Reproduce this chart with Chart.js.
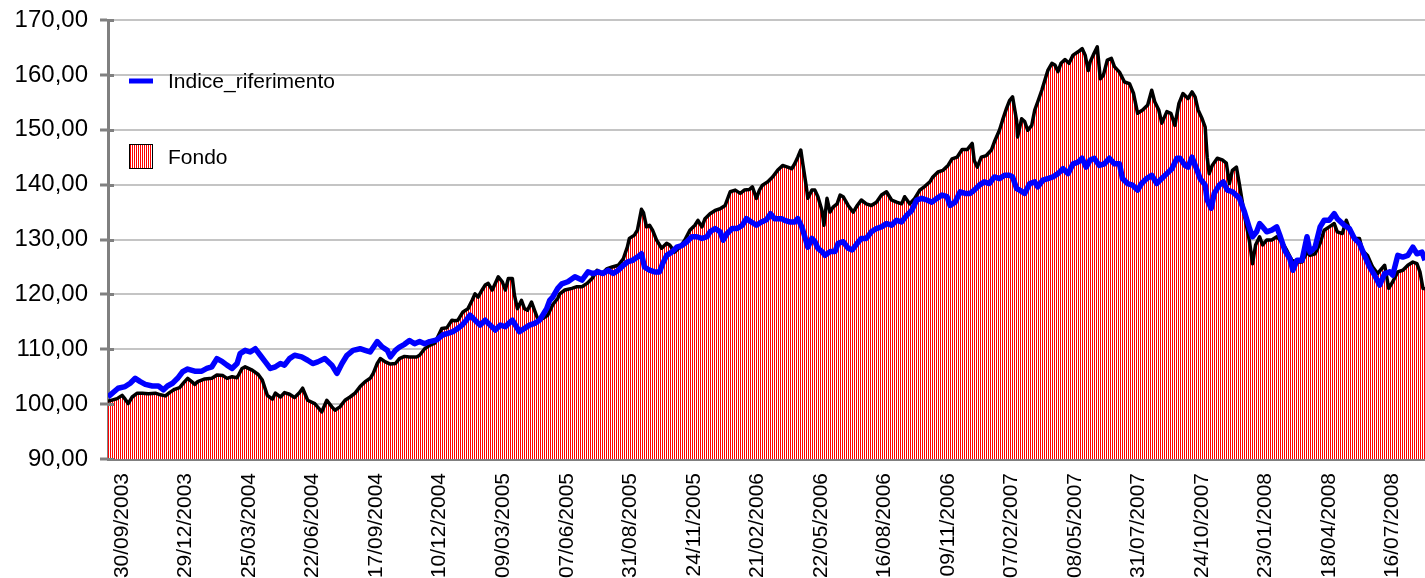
<!DOCTYPE html>
<html>
<head>
<meta charset="utf-8">
<script src="https://cdn.jsdelivr.net/npm/chart.js@4.4.1/dist/chart.umd.min.js"></script>
<style>
  html, body { margin: 0; padding: 0; background: #ffffff; }
  #wrap { width: 1425px; height: 578px; }
</style>
</head>
<body>
<div id="wrap"><canvas id="c" width="1425" height="578"></canvas></div>
<script>
// ---- tick labels (every 63 trading days) ----
const tickDays = [0, 63, 126, 189, 252, 315, 378, 441, 504, 567, 630, 693, 756, 819, 882, 945, 1008, 1071, 1134, 1197, 1260];
const tickLabels = ["30/09/2003", "29/12/2003", "25/03/2004", "22/06/2004", "17/09/2004", "10/12/2004",
  "09/03/2005", "07/06/2005", "31/08/2005", "24/11/2005", "21/02/2006", "22/05/2006", "16/08/2006",
  "09/11/2006", "07/02/2007", "08/05/2007", "31/07/2007", "24/10/2007", "23/01/2008", "18/04/2008", "16/07/2008"];
const lastDay = 1306;

// ---- Fondo (trading-day index, value) ----
const fondoDays = [0,9,14,17,20,24,29,34,40,47,52,57,61,66,71,76,79,83,86,89,96,103,108,114,118,123,128,133,136,143,149,153,158,163,166,171,175,180,185,190,193,198,205,212,217,222,225,230,235,240,245,250,255,260,263,267,270,275,280,285,289,294,299,306,309,314,319,324,331,336,341,344,347,352,357,361,364,367,371,374,377,381,384,387,391,394,397,401,403,406,410,413,416,420,423,426,431,436,441,446,448,453,460,465,470,475,480,485,490,495,500,506,511,515,517,522,525,529,531,534,537,540,544,549,554,557,562,567,572,577,582,585,589,592,597,602,607,612,617,622,627,631,636,639,643,646,649,654,659,664,669,674,678,681,684,687,689,692,694,698,701,704,708,710,713,716,719,723,726,729,734,739,743,747,752,757,762,767,772,777,782,787,790,795,800,805,810,815,818,823,828,833,837,842,847,852,857,859,862,866,871,876,879,884,887,891,894,897,901,902,906,909,912,916,919,922,926,929,932,936,939,942,945,949,953,957,962,966,969,972,974,977,981,984,987,991,995,998,1003,1008,1013,1017,1021,1026,1031,1035,1038,1042,1045,1050,1054,1058,1062,1066,1071,1075,1078,1081,1085,1088,1090,1092,1095,1100,1105,1109,1112,1115,1119,1122,1127,1132,1135,1138,1142,1145,1149,1154,1159,1164,1169,1174,1179,1184,1189,1192,1197,1202,1206,1211,1216,1219,1224,1228,1231,1236,1241,1244,1249,1254,1259,1263,1266,1270,1274,1279,1284,1289,1294,1298,1301,1304,1306];
const fondoValues = [100.5,101.0,101.6,100.9,100.1,101.3,102.0,102.0,101.9,102.0,101.7,101.5,102.1,102.7,103.0,104.1,104.7,104.1,103.6,104.1,104.6,104.7,105.3,105.2,104.7,105.0,104.8,106.5,106.8,106.2,105.4,104.4,101.6,100.9,102.0,101.3,102.1,101.8,101.2,102.1,102.9,100.7,100.1,98.6,100.7,99.5,98.9,99.5,100.7,101.3,102.0,103.2,104.1,104.7,105.6,107.4,108.3,107.7,107.3,107.4,108.3,108.7,108.6,108.6,108.9,110.1,110.7,111.1,113.8,113.9,115.3,115.2,115.3,116.8,117.4,118.9,120.1,119.5,120.8,121.7,122.0,120.8,122.0,123.2,122.3,120.8,122.9,122.9,119.9,117.4,118.9,117.4,117.1,118.6,117.1,115.6,115.6,116.2,118.1,119.3,120.1,120.8,121.1,121.4,121.4,122.0,122.9,124.4,123.8,124.7,125.0,125.3,126.5,128.6,130.2,130.8,131.7,135.5,134.9,132.3,132.6,131.7,129.9,128.4,129.3,129.0,127.7,128.6,129.9,131.7,132.6,133.5,132.3,133.8,134.7,135.3,135.6,136.2,138.7,139.0,138.4,139.0,139.1,139.6,137.5,139.0,139.9,140.5,141.4,142.6,143.5,143.2,142.9,143.8,145.0,146.3,143.8,140.2,137.5,139.0,139.0,137.8,135.3,132.6,137.5,135.0,135.9,136.5,138.1,137.8,136.2,135.0,136.2,137.2,136.5,136.2,136.8,138.1,138.7,137.2,136.8,136.5,137.8,136.5,137.5,139.0,139.7,140.5,141.4,142.3,142.6,143.5,144.7,145.0,146.4,146.4,147.5,144.4,143.2,145.0,145.3,146.3,147.8,149.9,151.7,153.9,155.3,156.0,151.7,148.7,152.0,151.5,149.9,150.8,153.6,155.1,157.2,159.0,160.8,162.1,161.8,160.6,162.1,162.8,162.1,163.6,164.2,164.8,163.6,160.8,162.4,163.6,165.1,159.3,159.9,162.7,163.0,161.5,160.5,158.7,158.4,156.6,153.0,153.6,154.5,157.2,155.1,153.6,151.2,153.3,153.0,150.8,154.8,156.6,155.7,156.9,156.0,153.6,152.0,150.5,145.0,142.0,143.5,144.8,144.5,143.9,140.2,142.6,143.2,140.0,134.4,129.6,125.6,129.0,130.5,129.0,129.9,129.9,130.5,129.6,128.0,126.2,125.9,125.9,127.7,127.1,127.4,129.3,131.7,132.3,132.9,131.4,131.1,133.5,132.0,130.2,130.2,128.0,127.1,125.0,123.8,124.7,125.3,121.1,122.3,124.1,124.4,125.3,125.9,125.6,124.1,121.1,121.0];

// ---- Indice_riferimento (trading-day index, value) ----
const indiceDays = [0,10,17,22,27,32,37,44,50,55,59,64,69,74,79,86,93,98,103,108,113,118,123,128,131,136,141,146,151,156,161,166,171,175,180,185,192,198,203,208,215,222,227,232,237,243,250,255,260,267,272,277,280,285,289,294,299,304,309,314,319,326,332,337,342,347,351,354,359,364,369,374,379,384,389,394,399,401,405,408,413,418,423,428,431,435,438,441,446,450,456,463,470,476,481,486,491,496,501,506,511,515,520,525,529,532,537,542,547,550,554,559,564,569,574,579,584,589,594,597,602,607,610,614,619,624,629,633,638,643,648,653,657,661,668,671,676,681,684,688,691,694,698,701,704,708,711,716,721,724,729,734,738,743,747,752,757,762,767,772,777,782,787,792,797,802,807,812,817,822,827,832,835,840,845,850,855,859,864,869,874,879,884,889,894,897,901,904,909,914,919,922,927,932,937,942,947,952,957,962,966,970,974,978,983,988,993,998,1003,1006,1011,1016,1021,1025,1030,1035,1040,1045,1050,1055,1060,1063,1068,1071,1075,1080,1083,1088,1090,1094,1097,1102,1106,1110,1115,1122,1127,1132,1135,1139,1142,1145,1149,1154,1159,1162,1167,1172,1175,1179,1184,1189,1192,1197,1202,1206,1211,1216,1219,1226,1231,1236,1241,1246,1251,1256,1261,1266,1271,1274,1279,1284,1289,1294,1298,1303,1306];
const indiceValues = [101.3,102.9,103.2,103.8,104.7,104.1,103.6,103.3,103.3,102.6,103.3,103.8,104.7,105.9,106.4,106.0,106.0,106.5,106.8,108.3,107.8,107.1,106.5,107.4,109.2,109.8,109.5,110.1,108.9,107.7,106.5,106.8,107.4,107.1,108.3,108.9,108.6,108.0,107.4,107.7,108.3,107.1,105.6,107.4,108.9,109.8,110.1,109.8,109.5,111.4,110.4,109.8,108.6,109.8,110.4,110.9,111.6,111.0,111.4,111.0,111.4,111.7,112.6,112.9,113.2,113.8,114.4,115.0,116.2,115.3,114.4,115.3,114.4,113.5,114.4,114.1,115.0,115.3,114.1,113.2,113.8,114.4,114.7,115.3,116.2,117.4,118.9,119.5,121.1,121.9,122.3,123.2,122.6,124.1,123.8,124.1,123.8,124.4,123.8,124.4,125.3,125.9,126.2,126.8,127.4,125.0,124.4,124.1,124.1,125.6,127.1,127.7,128.6,128.9,129.6,130.5,130.5,130.2,130.5,131.4,132.0,131.4,129.9,131.1,132.0,132.0,132.6,133.8,133.2,132.6,133.2,133.6,134.7,133.8,133.8,133.5,133.2,133.2,133.8,132.3,130.5,128.6,130.2,129.6,128.4,127.8,127.1,127.8,127.8,129.3,129.6,128.4,128.1,129.3,130.2,130.2,131.4,132.0,132.3,132.9,132.6,133.5,133.2,134.4,135.3,137.2,137.5,137.2,136.8,137.5,138.1,137.8,136.2,136.8,138.7,138.4,138.4,139.0,139.9,140.5,140.2,141.4,141.1,141.7,141.7,141.4,139.3,139.0,138.4,140.2,140.5,139.6,140.8,141.1,141.4,142.0,142.9,142.0,143.8,144.1,144.8,143.2,144.5,144.8,143.5,143.8,144.8,143.8,143.8,141.1,140.2,139.9,139.0,140.2,141.1,141.7,140.2,141.1,142.0,142.9,144.8,144.8,143.5,143.2,145.0,142.6,141.1,139.9,137.2,135.7,138.4,139.9,140.5,139.0,138.7,137.5,135.0,132.0,130.5,131.4,132.9,132.3,131.4,131.7,132.3,130.8,128.0,126.5,124.4,126.2,126.2,130.5,127.7,128.6,132.3,133.5,133.5,134.7,133.8,132.6,132.0,130.2,129.3,127.1,125.0,123.5,121.7,123.8,124.1,123.5,127.1,126.8,127.1,128.6,127.4,127.7,126.2];

const yMin = 90, yMax = 170, yStep = 10;

// ---- stripe pattern for the Fondo area ----
function makeStripes() {
  const c = document.createElement('canvas');
  c.width = 2; c.height = 1;
  const g = c.getContext('2d');
  g.fillStyle = '#ffffff'; g.fillRect(0, 0, 2, 1);
  g.fillStyle = '#ff0000'; g.fillRect(0, 0, 1, 1);
  return g.createPattern(c, 'repeat');
}
const stripes = makeStripes();

const toPoints = (xs, ys) => xs.map((x, i) => ({ x: x, y: ys[i] }));

const insideLegend = {
  id: 'insideLegend',
  afterDraw(chart) {
    const ctx = chart.ctx;
    const ds = chart.data.datasets;
    ctx.save();
    ctx.font = '21px "Liberation Sans", Arial, sans-serif';
    ctx.textBaseline = 'middle';
    ctx.textAlign = 'left';
    ctx.fillStyle = '#000000';
    ctx.strokeStyle = ds[0].borderColor;
    ctx.lineWidth = 5;
    ctx.beginPath(); ctx.moveTo(129, 81); ctx.lineTo(153, 81); ctx.stroke();
    ctx.fillText(ds[0].label, 168, 82);
    ctx.fillStyle = stripes;
    ctx.fillRect(129, 144, 24, 25);
    ctx.strokeStyle = '#000000';
    ctx.lineWidth = 1;
    ctx.strokeRect(129.5, 144.5, 23, 24);
    ctx.fillStyle = '#000000';
    ctx.fillText(ds[1].label, 168, 158);
    ctx.restore();
  }
};

// small inward extension of the y tick marks across the axis line
const tickCross = {
  id: 'tickCross',
  afterDraw(chart) {
    const y = chart.scales.y;
    const ctx = chart.ctx;
    ctx.save();
    ctx.strokeStyle = '#808080';
    ctx.lineWidth = 3;
    y.ticks.forEach((t) => {
      const py = Math.round(y.getPixelForValue(t.value)) + 0.5;
      ctx.beginPath(); ctx.moveTo(chart.chartArea.left, py); ctx.lineTo(chart.chartArea.left + 6, py); ctx.stroke();
    });
    ctx.restore();
  }
};

new Chart(document.getElementById('c'), {
  type: 'line',
  data: {
    datasets: [
      {
        label: 'Indice_riferimento',
        data: toPoints(indiceDays, indiceValues),
        borderColor: '#0000ff',
        borderWidth: 5.5,
        pointRadius: 0,
        tension: 0,
        fill: false,
        borderJoinStyle: 'round'
      },
      {
        label: 'Fondo',
        data: toPoints(fondoDays, fondoValues),
        borderColor: '#000000',
        borderWidth: 3.5,
        backgroundColor: stripes,
        pointRadius: 0,
        tension: 0,
        fill: 'start',
        borderJoinStyle: 'round'
      }
    ]
  },
  options: {
    responsive: false,
    devicePixelRatio: 1,
    animation: false,
    layout: { padding: { top: 20, right: 0, bottom: 0, left: 0 } },
    plugins: { legend: { display: false }, tooltip: { enabled: false } },
    scales: {
      x: {
        type: 'linear',
        min: 0,
        max: lastDay,
        afterBuildTicks: (scale) => { scale.ticks = tickDays.map(v => ({ value: v })); },
        afterFit: (scale) => { scale.height = 119; scale.paddingLeft = 0; scale.paddingRight = 0; },
        grid: { display: false, drawTicks: false },
        border: { display: true, color: '#808080', width: 3 },
        ticks: {
          autoSkip: false,
          maxRotation: 90,
          minRotation: 90,
          padding: 14,
          labelOffset: 14,
          color: '#000000',
          font: { family: '"Liberation Sans", Arial, sans-serif', size: 21 },
          callback: (value, index) => tickLabels[index]
        }
      },
      y: {
        min: yMin,
        max: yMax,
        afterFit: (scale) => { scale.width = 108; scale.paddingTop = 0; scale.paddingBottom = 0; },
        grid: { color: '#c4c4c4', lineWidth: 2, tickLength: 8, tickColor: '#808080', tickWidth: 3 },
        border: { display: true, color: '#808080', width: 3 },
        ticks: {
          stepSize: yStep,
          padding: 12,
          color: '#000000',
          font: { family: '"Liberation Sans", Arial, sans-serif', size: 24 },
          callback: (v) => v.toFixed(2).replace('.', ',')
        }
      }
    }
  },
  plugins: [insideLegend, tickCross]
});
</script>
</body>
</html>
